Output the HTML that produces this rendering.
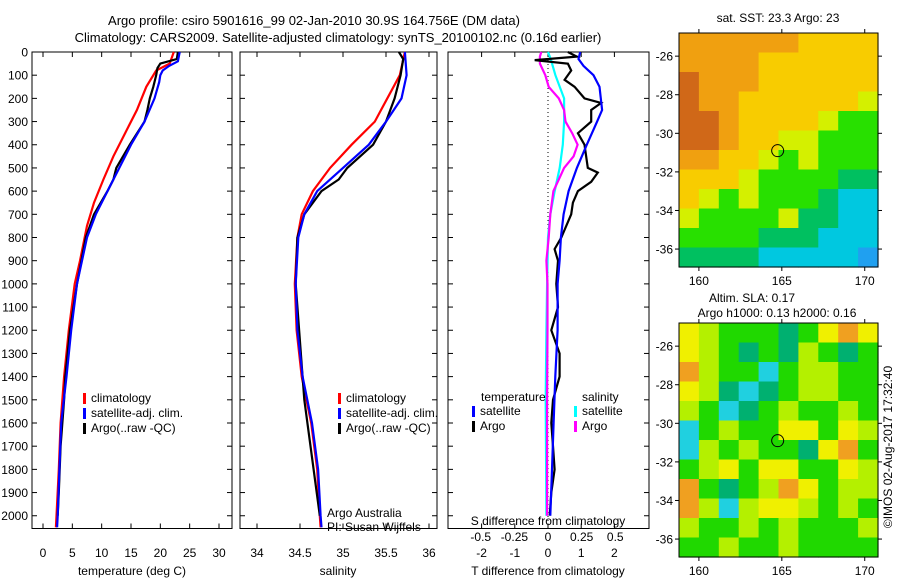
<!DOCTYPE html>
<html><head><meta charset="utf-8"><style>
body{margin:0;background:#fff;width:900px;height:580px;overflow:hidden}
svg{display:block;font-family:"Liberation Sans",sans-serif}
text{font-size:12px;fill:#000}
</style></head><body>
<svg id="c" width="900" height="580"></svg>
<script>
// ---------- data ----------
const depthTicks=[0,100,200,300,400,500,600,700,800,900,1000,1100,1200,1300,1400,1500,1600,1700,1800,1900,2000];
const tempTicks=[0,5,10,15,20,25,30];
const salTicks=[34,34.5,35,35.5,36];
const tdTicks=[-2,-1,0,1,2];
const sdTicks=[-0.5,-0.25,0,0.25,0.5];
const sdTickLabels=["-0.5","-0.25","0","0.25","0.5"];
const climTD=[0,50,80,150,250,350,450,550,650,750,900,1000,1200,1400,1600,1800,2000,2050];
const climT=[22.3,21.6,19.3,17.6,16,14,12,10.3,8.7,7.5,6.3,5.4,4.4,3.6,3.0,2.7,2.3,2.2];
const satTD=[0,40,60,80,100,130,200,300,400,500,600,700,800,1000,1200,1400,1600,1800,2000,2050];
const satT=[23.3,23,21.5,20.4,20,19.8,19,17.3,15,13,11,9,7.5,5.8,4.8,4,3.1,2.8,2.5,2.4];
const argoTD=[0,30,50,70,100,150,200,250,300,400,500,550,600,700,800,1000,1200,1400,1500,1700,1900,2000];
const argoT=[23,22.8,20,19.5,19.3,18.8,18.2,17.8,17.3,14.8,12.5,12,11,8.7,7.3,5.8,4.6,3.8,3.6,3.0,2.7,2.5];
const climSD=[0,100,300,400,500,600,700,800,1000,1200,1400,1600,1800,2000,2050];
const climS=[35.72,35.66,35.37,35.1,34.85,34.65,34.52,34.47,34.44,34.46,34.52,34.63,34.70,34.73,34.74];
const satSD=[0,100,200,300,400,500,600,700,800,1000,1200,1400,1600,1800,2000,2050];
const satS=[35.72,35.74,35.68,35.5,35.3,35.0,34.7,34.55,34.48,34.45,34.47,34.53,34.64,34.71,34.74,34.75];
const argoSD=[0,30,100,200,300,400,500,550,600,700,800,1000,1500,2000];
const argoS=[35.65,35.7,35.67,35.6,35.5,35.35,35.05,34.95,34.75,34.55,34.47,34.45,34.55,34.73];
const dTD=[0,30,60,100,150,250,300,400,500,600,700,800,900,1000,1200,1400,1600,1800,2000];
const dTsat=[0.97,0.92,1.07,1.37,1.55,1.63,1.48,1.17,0.87,0.62,0.47,0.39,0.35,0.29,0.29,0.22,0.17,0.12,0.07];
const dTAD=[0,15,20,35,50,80,120,150,200,220,250,300,350,400,500,520,560,600,650,700,800,850,900,1000,1100,1200,1300,1400,1500,1600,1700,1800,1900,2000];
const dTargo=[0.6,0.8,0.87,-0.4,0.6,0.7,0.5,0.8,1.1,1.6,1.3,1.3,0.9,1.1,1.2,1.5,1.3,0.9,0.75,0.7,0.4,0.2,0.3,0.25,0.3,0.1,0.35,0.35,0.15,0.1,0.15,0.2,0.1,0.05];
const dSD=[0,30,100,200,300,400,500,600,700,800,1000,1200,1500,2000];
const dSsat=[0,0.02,0.055,0.12,0.12,0.11,0.087,0.05,0.017,0,-0.007,-0.012,-0.017,-0.012];
const dSAD=[0,20,50,100,150,200,250,300,350,400,450,500,550,600,700,800,900,1000,1200,1500,2000];
const dSargo=[-0.05,-0.06,-0.06,-0.02,0.005,0.08,0.12,0.13,0.18,0.22,0.19,0.12,0.08,0.04,0.017,0.005,-0.012,-0.004,-0.004,-0.007,-0.007];
const latTicks=[-26,-28,-30,-32,-34,-36];
const lonTicks=[160,165,170];
const sstGrid=["OOOOOOYYYY","OOOOYYYYYY","DOOOYYYYYY","DOOYYYYYYL","DDOYYYYLGG","DDOYYLLGGG","OOYYLGLGGG","YYYLGGGGTT","YLGLGGGTCC","LGGGGLTTCC","GGGGTTTCCC","TTTTCCCCCB"];
const slaGrid=["YLGGGTGYOY","YLGTGTLGTG","OLGGCGLLGG","YLTCTGLLGG","LGCTGLGGLG","CGLGGYYGYL","CLGLGGTYOG","GLYGYYGGYL","OGTGLOYGLL","OLCLYYLGLG","LGGLGLGGGL","GGLGGLGGGG"];
const argoPos=[164.75,-30.9];
// ---------- helpers ----------
const S=document.getElementById('c');const NS='http://www.w3.org/2000/svg';
function el(t,a,p){const e=document.createElementNS(NS,t);for(const k in a)e.setAttribute(k,a[k]);(p||S).appendChild(e);return e;}
function txt(x,y,s,anchor,name,extra){const e=el('text',Object.assign({x:x,y:y,'text-anchor':anchor||'start'},extra||{}));e.textContent=s;

return e;}
const Y0=52,Y1=528.5,DMAX=2055;
const yD=d=>Y0+d/DMAX*(Y1-Y0);
function frame(x0,x1,y0,y1,name){const r=el('rect',{x:x0,y:y0,width:x1-x0,height:y1-y0,fill:'none',stroke:'#000','stroke-width':1});

}
function line(xs,ds,fx,color,name,w){const pts=xs.map((v,i)=>fx(v).toFixed(1)+','+yD(ds[i]).toFixed(1)).join(' ');
const p=el('polyline',{points:pts,fill:'none',stroke:color,'stroke-width':w||2.2,'stroke-linejoin':'miter'});

}
function xticks(ticks,labels,fx,y0,y1,ly,name){ticks.forEach((t,i)=>{const x=fx(t);el('line',{x1:x,x2:x,y1:y1,y2:y1-5,stroke:'#000'});el('line',{x1:x,x2:x,y1:y0,y2:y0+5,stroke:'#000'});txt(x,ly,labels[i],'middle',name);});}
// panels
const fT=v=>43+v*(219-43)/30;
const fS=v=>257+(v-34)*86;
const fTD=v=>548+v*33.2;
const fSD=v=>548+v*134.5;
frame(32,232,Y0,Y1,'temperature-panel');frame(240,437,Y0,Y1,'salinity-panel');frame(448,649,Y0,Y1,'difference-panel');
depthTicks.forEach(d=>{const y=yD(d);[[32,1],[232,-1],[240,1],[437,-1],[448,1],[649,-1]].forEach(a=>el('line',{x1:a[0],x2:a[0]+5*a[1],y1:y,y2:y,stroke:'#000'}));txt(28,y+4.5,String(d),'end','depth-tick-label');});
xticks(tempTicks,tempTicks.map(String),fT,Y0,Y1,557,'temperature-tick-label');
xticks(salTicks,salTicks.map(String),fS,Y0,Y1,557,'salinity-tick-label');
xticks(tdTicks,tdTicks.map(String),fTD,Y0,Y1,557,'t-diff-tick-label');
sdTicks.forEach((t,i)=>txt(fSD(t),541,sdTickLabels[i],'middle','s-diff-tick-label'));
txt(132,575,'temperature (deg C)','middle','x-axis-title-temperature');
txt(338,575,'salinity','middle','x-axis-title-salinity');
txt(548,575,'T difference from climatology','middle','x-axis-title-t-diff');
txt(548,525,'S difference from climatology','middle','x-axis-title-s-diff');
txt(314,25,'Argo profile: csiro 5901616_99 02-Jan-2010 30.9S 164.756E (DM data)','middle','chart-title',{style:'font-size:13px'});
txt(338,42,'Climatology: CARS2009. Satellite-adjusted climatology: synTS_20100102.nc (0.16d earlier)','middle','chart-subtitle',{style:'font-size:13px'});
// zero dotted line
el('line',{x1:548,x2:548,y1:Y0,y2:Y1,stroke:'#000','stroke-dasharray':'1,3'});
line(climT,climTD,fT,'#f00','temp-climatology-line');line(argoT,argoTD,fT,'#000','temp-argo-line');line(satT,satTD,fT,'#00f','temp-satellite-line');
line(climS,climSD,fS,'#f00','sal-climatology-line');line(argoS,argoSD,fS,'#000','sal-argo-line');line(satS,satSD,fS,'#00f','sal-satellite-line');
line(dSsat,dSD,fSD,'#0ff','s-diff-satellite-line');line(dSargo,dSAD,fSD,'#f0f','s-diff-argo-line');
line(dTargo,dTAD,fTD,'#000','t-diff-argo-line');line(dTsat,dTD,fTD,'#00f','t-diff-satellite-line');
function leg(x,y,c,s,name){el('rect',{x:x,y:y-9,width:3,height:11,fill:c});txt(x+8,y,s,'start',name);}
[[83,'#f00','climatology'],[83,'#00f','satellite-adj. clim.'],[83,'#000','Argo(..raw -QC)']].forEach((a,i)=>leg(a[0],402+i*15,a[1],a[2],'temp-legend-entry'));
[[338,'#f00','climatology'],[338,'#00f','satellite-adj. clim.'],[338,'#000','Argo(..raw -QC)']].forEach((a,i)=>leg(a[0],402+i*15,a[1],a[2],'sal-legend-entry'));
txt(481,401,'temperature','start','legend-heading-temperature');txt(582,401,'salinity','start','legend-heading-salinity');
leg(472,415,'#00f','satellite','diff-legend-entry');leg(472,430,'#000','Argo','diff-legend-entry');
leg(574,415,'#0ff','satellite','diff-legend-entry');leg(574,430,'#f0f','Argo','diff-legend-entry');
txt(327,517,'Argo Australia','start','credit-text');txt(327,531,'PI: Susan Wijffels','start','credit-text');
// maps
const cols={O:'#f0a010',D:'#d06818',Y:'#f8cc00',L:'#d4f000',G:'#28e000',T:'#00c060',C:'#00c8e0',B:'#20a0f0'};
const cols2={O:'#f0a020',Y:'#f0f000',L:'#b4f000',G:'#20d800',T:'#00b070',C:'#20d0e0'};
const LON0=158.8,LON1=170.8,LAT0=-24.8,LAT1=-36.93,MX0=679,MX1=878;
function map(y0,y1,grid,cm,name){const fx=v=>MX0+(v-LON0)/(LON1-LON0)*(MX1-MX0);const fy=v=>y0+(v-LAT0)/(LAT1-LAT0)*(y1-y0);
const g=el('g',{});
const nr=grid.length,nc=grid[0].length,cw=(MX1-MX0)/nc,ch=(y1-y0)/nr;
grid.forEach((row,r)=>{for(let c=0;c<nc;c++)el('rect',{x:MX0+c*cw,y:y0+r*ch,width:cw+0.6,height:ch+0.6,fill:cm[row[c]]},g);});
frame(MX0,MX1,y0,y1,name+'-frame');
latTicks.forEach(t=>{const y=fy(t);el('line',{x1:MX0,x2:MX0-4,y1:y,y2:y,stroke:'#000'});el('line',{x1:MX1,x2:MX1+4,y1:y,y2:y,stroke:'#000'});txt(673,y+4.5,String(t),'end','latitude-tick-label');});
lonTicks.forEach(t=>{const x=fx(t);el('line',{x1:x,x2:x,y1:y0,y2:y0-4,stroke:'#000'});el('line',{x1:x,x2:x,y1:y1,y2:y1+4,stroke:'#000'});txt(x,y1+18,String(t),'middle','longitude-tick-label');});
const cc=el('circle',{cx:fx(argoPos[0]),cy:fy(argoPos[1]),r:6,fill:'none',stroke:'#000','stroke-width':1});

}
map(33,267,sstGrid,cols,'sst-map');
map(323,557,slaGrid,cols2,'sla-map');
txt(778,22,'sat. SST: 23.3 Argo: 23','middle','sst-map-title');
txt(752,302,'Altim. SLA: 0.17','middle','sla-map-title');
txt(777,317,'Argo h1000: 0.13 h2000: 0.16','middle','sla-map-subtitle');
txt(0,0,'©IMOS 02-Aug-2017 17:32:40','middle','timestamp-text',{transform:'translate(892,447) rotate(-90)'});
</script></body></html>
